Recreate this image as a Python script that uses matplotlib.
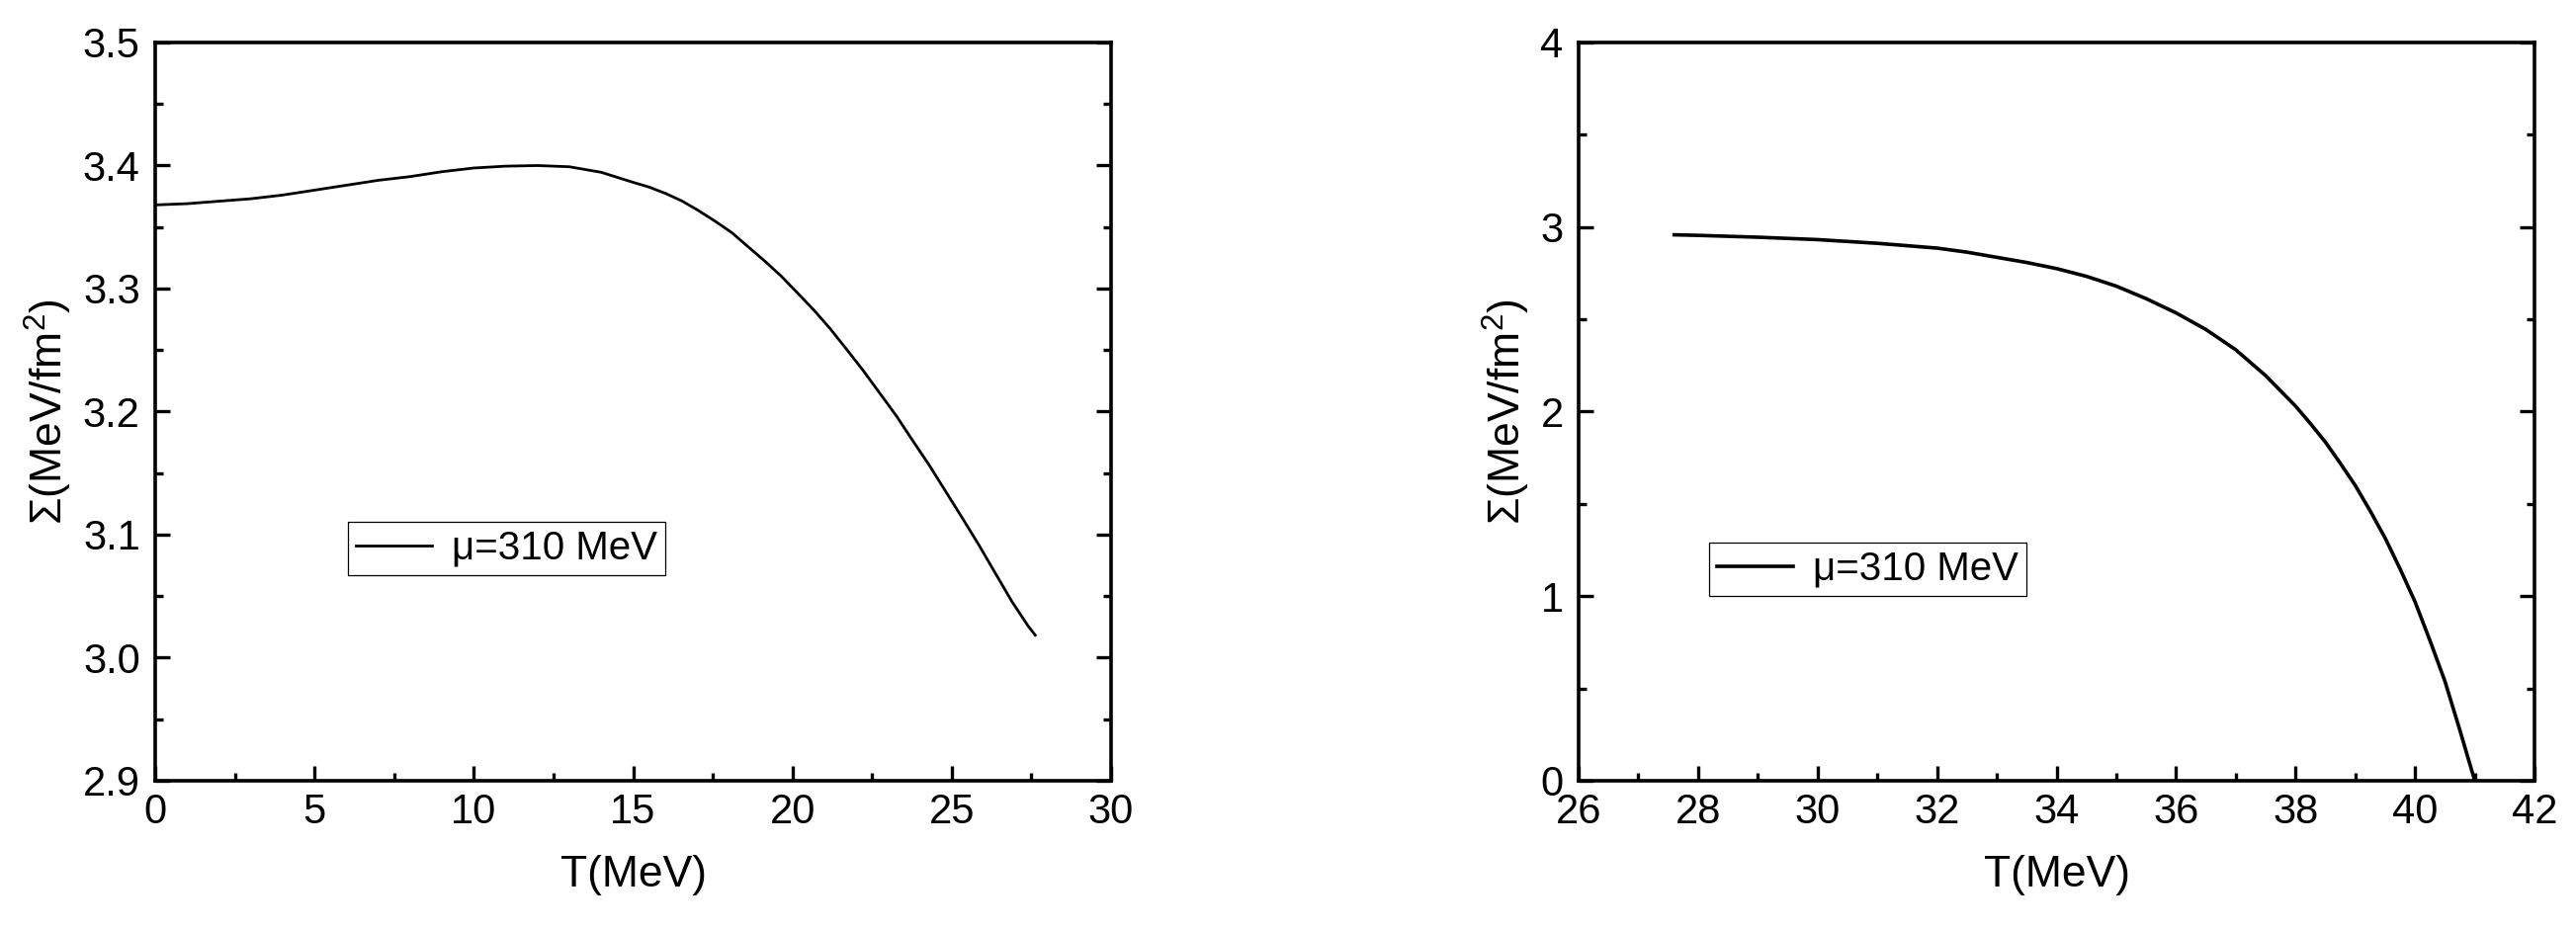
import matplotlib
matplotlib.use("Agg")
import matplotlib.pyplot as plt
from matplotlib.ticker import MultipleLocator

plt.rcParams['font.family'] = ['Liberation Sans', 'DejaVu Sans']
plt.rcParams['mathtext.fontset'] = 'custom'
plt.rcParams['mathtext.rm'] = 'Liberation Sans'

# left panel: T from 0 up to ~27.6 MeV
T_left = [0, 1, 2, 3, 4, 5, 6, 7, 8, 9, 10, 11, 12, 13, 14, 14.98,
          15.50, 16.02, 16.54, 17.05, 17.57, 18.09, 18.60, 19.12, 19.64,
          20.16, 20.67, 21.19, 21.71, 22.22, 22.74, 23.26, 23.77, 24.29,
          24.81, 25.33, 25.84, 26.36, 26.88, 27.39, 27.62]
sigma_left = [3.368, 3.369, 3.371, 3.373, 3.376, 3.380, 3.384, 3.388, 3.391,
              3.395, 3.398, 3.3995, 3.400, 3.399, 3.3945, 3.3865,
              3.3825, 3.3773, 3.3711, 3.3634, 3.3548, 3.3456, 3.3342, 3.3226,
              3.3103, 3.2964, 3.2826, 3.2672, 3.2503, 3.2334, 3.2150, 3.1966,
              3.1766, 3.1566, 3.1351, 3.1136, 3.0921, 3.0690, 3.0460, 3.0260,
              3.0183]

# right panel: T from ~27.6 up to 41 MeV
T_right = [27.6, 28, 29, 30, 31, 32, 32.5, 33, 33.5, 34, 34.5, 35, 35.5, 36,
           36.5, 37, 37.5, 38, 38.25, 38.5, 38.75, 39, 39.25, 39.5, 39.75,
           40, 40.25, 40.5, 40.75, 41.0]
sigma_right = [2.958, 2.955, 2.945, 2.932, 2.912, 2.886, 2.864, 2.836, 2.808,
               2.775, 2.733, 2.680, 2.612, 2.535, 2.445, 2.335, 2.195, 2.030,
               1.935, 1.835, 1.720, 1.600, 1.462, 1.315, 1.148, 0.970, 0.760,
               0.540, 0.275, 0.0]

label = "μ=310 MeV"
ylabel = "Σ(MeV/fm$^2$)"
xlabel = "T(MeV)"

fig = plt.figure(figsize=(26.06, 9.41), dpi=100)
ax1 = fig.add_axes([0.06025, 0.16047, 0.37107, 0.79384])
ax2 = fig.add_axes([0.61282, 0.16047, 0.37107, 0.79384])


def style(ax, xlim, ylim, xmaj, xmin, ymaj, ymin, fmt):
    ax.set_xlim(*xlim)
    ax.set_ylim(*ylim)
    ax.xaxis.set_major_locator(MultipleLocator(xmaj))
    ax.xaxis.set_minor_locator(MultipleLocator(xmin))
    ax.yaxis.set_major_locator(MultipleLocator(ymaj))
    ax.yaxis.set_minor_locator(MultipleLocator(ymin))
    ax.yaxis.set_major_formatter(fmt)
    for s in ax.spines.values():
        s.set_linewidth(2.6)
    ax.tick_params(which='both', direction='in', top=False, right=True,
                   labelsize=30, width=2.4)
    ax.tick_params(which='major', length=11)
    ax.tick_params(which='minor', length=6)
    ax.tick_params(axis='x', pad=9)
    ax.tick_params(axis='y', pad=11)
    ax.set_xlabel(xlabel, fontsize=32, labelpad=16)
    ax.set_ylabel(ylabel, fontsize=32, labelpad=6)


def add_legend(ax, anchor):
    leg = ax.legend(loc='upper left', bbox_to_anchor=anchor, borderaxespad=0,
                    fontsize=29, frameon=True, fancybox=False,
                    edgecolor='black', framealpha=1, handlelength=1.9,
                    handletextpad=0.5, borderpad=0.2)
    leg.get_frame().set_linewidth(0.9)


ax1.plot(T_left, sigma_left, color='black', lw=2.0, label=label)
style(ax1, (0, 30), (2.9, 3.5), 5, 2.5, 0.1, 0.05, "{x:.1f}")
add_legend(ax1, (0.2017, 0.351))

ax2.plot(T_right, sigma_right, color='black', lw=2.6, label=label)
style(ax2, (26, 42), (0, 4), 2, 1, 1, 0.5, "{x:.0f}")
add_legend(ax2, (0.1365, 0.323))

fig.savefig("out.png", dpi=100)
